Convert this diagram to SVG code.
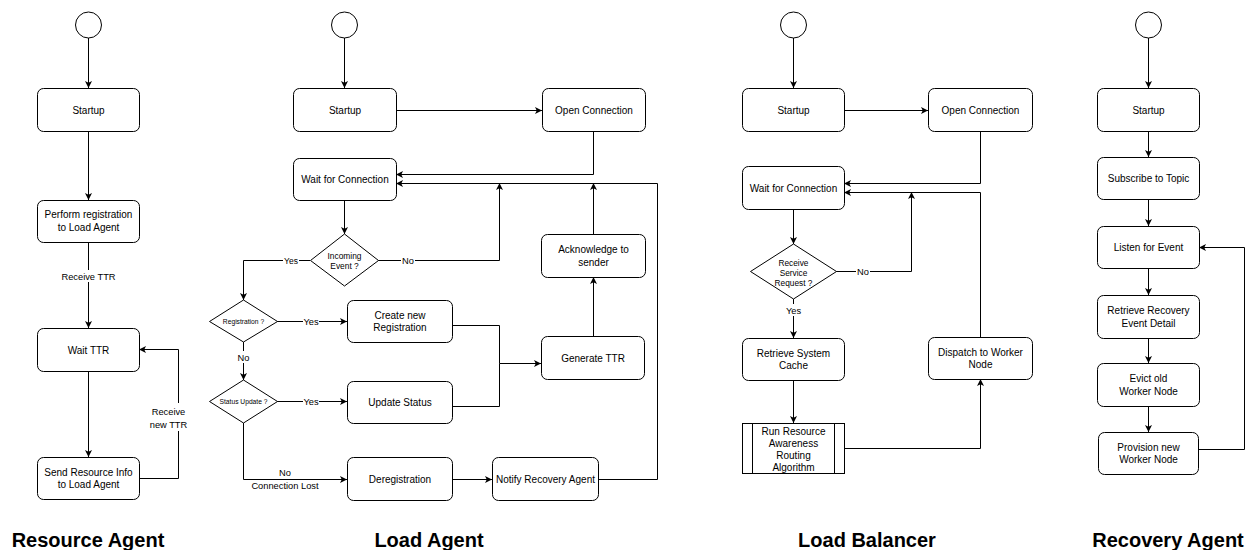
<svg xmlns="http://www.w3.org/2000/svg" width="1246" height="550" viewBox="0 0 1246 550">
<defs>
<marker id="arr" markerUnits="userSpaceOnUse" markerWidth="9" markerHeight="9" refX="7" refY="3.5" orient="auto">
<path d="M0,0 L7,3.5 L0,7 L1.75,3.5 Z" fill="#000"/>
</marker>
<style>
.n{fill:#fff;stroke:#000;stroke-width:1}
.t{font-family:"Liberation Sans",Arial,sans-serif;font-size:10px;fill:#000;text-anchor:middle}
.d{font-family:"Liberation Sans",Arial,sans-serif;fill:#000;text-anchor:middle}
.l{font-family:"Liberation Sans",Arial,sans-serif;font-size:9.3px;fill:#000;text-anchor:middle}
.c{fill:none;stroke:#000;stroke-width:1}
.a{marker-end:url(#arr)}
.bg{fill:#fff}
.h{font-family:"Liberation Sans",Arial,sans-serif;font-size:20px;font-weight:bold;fill:#000;text-anchor:middle}
</style>
</defs>
<rect width="1246" height="550" fill="#fff"/>

<g id="connectors">
<!-- Resource Agent -->
<path class="c a" d="M88.5,38 V88"/>
<path class="c a" d="M88.5,131 V200"/>
<path class="c a" d="M88.5,242 V328"/>
<path class="c a" d="M88.5,371 V457"/>
<path class="c a" d="M139,478.5 H178.5 V349.5 H139"/>
<!-- Load Agent -->
<path class="c a" d="M344.5,38 V88"/>
<path class="c a" d="M396,110.5 H542"/>
<path class="c a" d="M593.5,131 V174.5 H396"/>
<path class="c a" d="M344.5,200 V234"/>
<path class="c a" d="M378,260.5 H499.5 V183"/>
<path class="c a" d="M310,260.5 H243.5 V300"/>
<path class="c a" d="M277,321.5 H347"/>
<path class="c a" d="M243.5,342 V380"/>
<path class="c a" d="M277,401.5 H347"/>
<path class="c a" d="M452,325.5 H499.5 V363.5 H541"/>
<path class="c" d="M452,406.5 H499.5 V363.5"/>
<path class="c a" d="M593.5,336 V277"/>
<path class="c a" d="M593.5,234 V183"/>
<path class="c a" d="M243.5,423 V479.5 H347"/>
<path class="c a" d="M452,479.5 H492"/>
<path class="c a" d="M598,479.5 H657.5 V183.5 H396"/>
<!-- Load Balancer -->
<path class="c a" d="M793.5,38 V88"/>
<path class="c a" d="M844,110.5 H928"/>
<path class="c a" d="M980.5,131 V183.5 H844"/>
<path class="c a" d="M793.5,209 V244"/>
<path class="c a" d="M836,271.5 H911.5 V192"/>
<path class="c a" d="M793.5,299 V338"/>
<path class="c a" d="M793.5,380 V423"/>
<path class="c a" d="M844,448.5 H980.5 V379"/>
<path class="c a" d="M980.5,337 V192.5 H844"/>
<!-- Recovery Agent -->
<path class="c a" d="M1148.5,38 V88"/>
<path class="c a" d="M1148.5,131 V157"/>
<path class="c a" d="M1148.5,199 V226"/>
<path class="c a" d="M1148.5,268 V295"/>
<path class="c a" d="M1148.5,338 V363"/>
<path class="c a" d="M1148.5,406 V432"/>
<path class="c a" d="M1198,449.5 H1244.5 V247.5 H1199"/>

<!-- edge labels -->
<rect class="bg" x="62" y="270" width="53" height="12"/>
<text class="l" x="88.5" y="279.5">Receive TTR</text>
<rect class="bg" x="152" y="403" width="34" height="28"/>
<text class="l" x="168.5" y="414.5">Receive</text>
<text class="l" x="168.5" y="427.5">new TTR</text>

<rect class="bg" x="401" y="255" width="14" height="11"/>
<text class="l" x="408" y="263.8">No</text>
<rect class="bg" x="283" y="255" width="16" height="11"/>
<text class="d" x="291" y="263.5" font-size="8.5px">Yes</text>
<rect class="bg" x="303" y="315" width="16" height="11"/>
<text class="l" x="311" y="324.5">Yes</text>
<rect class="bg" x="236" y="351" width="15" height="12"/>
<text class="l" x="243.5" y="360.5">No</text>
<rect class="bg" x="303" y="396" width="16" height="11"/>
<text class="l" x="311" y="405">Yes</text>
<text class="l" x="285" y="476">No</text>
<text class="l" x="285" y="488.5">Connection Lost</text>

<rect class="bg" x="856" y="266" width="14" height="11"/>
<text class="l" x="863" y="274.8">No</text>
<rect class="bg" x="785" y="304" width="17" height="12"/>
<text class="l" x="793.5" y="313.5">Yes</text>
</g>

<!-- Resource Agent -->
<g id="ra-start"><circle class="n" cx="88.5" cy="25" r="13"/></g>
<g id="ra-startup"><rect class="n" x="37.5" y="88.5" width="102" height="43" rx="6"/><text class="t" x="88.5" y="113.5">Startup</text></g>
<g id="ra-register"><rect class="n" x="37.5" y="200.5" width="102" height="42" rx="6"/><text class="t" x="88.5" y="218">Perform registration</text><text class="t" x="88.5" y="231">to Load Agent</text></g>
<g id="ra-wait"><rect class="n" x="37.5" y="328.5" width="102" height="43" rx="6"/><text class="t" x="88.5" y="353.5">Wait TTR</text></g>
<g id="ra-send"><rect class="n" x="37.5" y="457.5" width="102" height="42" rx="6"/><text class="t" x="88.5" y="475.5">Send Resource Info</text><text class="t" x="88.5" y="488">to Load Agent</text></g>

<!-- Load Agent -->
<g id="la-start"><circle class="n" cx="344.5" cy="25" r="13"/></g>
<g id="la-startup"><rect class="n" x="293.5" y="88.5" width="103" height="43" rx="6"/><text class="t" x="345" y="113.5">Startup</text></g>
<g id="la-open"><rect class="n" x="542.5" y="88.5" width="103" height="43" rx="6"/><text class="t" x="594" y="113.5">Open Connection</text></g>
<g id="la-wait"><rect class="n" x="293.5" y="158.5" width="103" height="42" rx="6"/><text class="t" x="345" y="183">Wait for Connection</text></g>
<g id="la-incoming"><polygon class="n" points="344.5,234 378.5,260.5 344.5,286 310.5,260.5"/><text class="d" font-size="8.4px" x="344.5" y="259">Incoming</text><text class="d" font-size="8.4px" x="344.5" y="269">Event ?</text></g>
<g id="la-registration"><polygon class="n" points="243.5,300 277.5,321.5 243.5,342 209.5,321.5"/><text class="d" font-size="6.7px" x="243.5" y="324">Registration ?</text></g>
<g id="la-status"><polygon class="n" points="243.5,380 277.5,401.5 243.5,423 209.5,401.5"/><text class="d" font-size="6.7px" x="243.5" y="404">Status Update ?</text></g>
<g id="la-create"><rect class="n" x="347.5" y="300.5" width="105" height="42" rx="6"/><text class="t" x="400" y="318.5">Create new</text><text class="t" x="400" y="331">Registration</text></g>
<g id="la-update"><rect class="n" x="347.5" y="381.5" width="105" height="42" rx="6"/><text class="t" x="400" y="405.5">Update Status</text></g>
<g id="la-generate"><rect class="n" x="541.5" y="336.5" width="103" height="43" rx="6"/><text class="t" x="593" y="361.5">Generate TTR</text></g>
<g id="la-ack"><rect class="n" x="541.5" y="234.5" width="104" height="43" rx="6"/><text class="t" x="593.5" y="253">Acknowledge to</text><text class="t" x="593.5" y="265.5">sender</text></g>
<g id="la-dereg"><rect class="n" x="347.5" y="457.5" width="105" height="43" rx="6"/><text class="t" x="400" y="482.5">Deregistration</text></g>
<g id="la-notify"><rect class="n" x="492.5" y="457.5" width="106" height="43" rx="6"/><text class="t" x="545.5" y="482.5">Notify Recovery Agent</text></g>

<!-- Load Balancer -->
<g id="lb-start"><circle class="n" cx="793.5" cy="25" r="13"/></g>
<g id="lb-startup"><rect class="n" x="742.5" y="88.5" width="102" height="43" rx="6"/><text class="t" x="793.5" y="113.5">Startup</text></g>
<g id="lb-open"><rect class="n" x="928.5" y="88.5" width="104" height="43" rx="6"/><text class="t" x="980.5" y="113.5">Open Connection</text></g>
<g id="lb-wait"><rect class="n" x="742.5" y="166.5" width="102" height="43" rx="6"/><text class="t" x="793.5" y="191.5">Wait for Connection</text></g>
<g id="lb-receive"><polygon class="n" points="793.5,244 836.5,271.5 793.5,299 750.5,271.5"/><text class="d" font-size="8.3px" x="793.5" y="266">Receive</text><text class="d" font-size="8.3px" x="793.5" y="276">Service</text><text class="d" font-size="8.3px" x="793.5" y="286">Request ?</text></g>
<g id="lb-cache"><rect class="n" x="742.5" y="338.5" width="102" height="42" rx="6"/><text class="t" x="793.5" y="356.5">Retrieve System</text><text class="t" x="793.5" y="369">Cache</text></g>
<g id="lb-run"><rect class="n" x="742.5" y="423.5" width="102" height="50"/><path class="c" d="M752.5,423.5 V473.5 M834.5,423.5 V473.5"/><text class="t" x="793.5" y="434.5">Run Resource</text><text class="t" x="793.5" y="446.5">Awareness</text><text class="t" x="793.5" y="459">Routing</text><text class="t" x="793.5" y="471">Algorithm</text></g>
<g id="lb-dispatch"><rect class="n" x="928.5" y="337.5" width="104" height="42" rx="6"/><text class="t" x="980.5" y="355.5">Dispatch to Worker</text><text class="t" x="980.5" y="368">Node</text></g>

<!-- Recovery Agent -->
<g id="rc-start"><circle class="n" cx="1148.5" cy="25" r="13"/></g>
<g id="rc-startup"><rect class="n" x="1097.5" y="88.5" width="102" height="43" rx="6"/><text class="t" x="1148.5" y="113.5">Startup</text></g>
<g id="rc-subscribe"><rect class="n" x="1097.5" y="157.5" width="102" height="42" rx="6"/><text class="t" x="1148.5" y="181.5">Subscribe to Topic</text></g>
<g id="rc-listen"><rect class="n" x="1097.5" y="226.5" width="102" height="42" rx="6"/><text class="t" x="1148.5" y="250.5">Listen for Event</text></g>
<g id="rc-retrieve"><rect class="n" x="1097.5" y="295.5" width="102" height="43" rx="6"/><text class="t" x="1148.5" y="314">Retrieve Recovery</text><text class="t" x="1148.5" y="326.5">Event Detail</text></g>
<g id="rc-evict"><rect class="n" x="1097.5" y="363.5" width="102" height="43" rx="6"/><text class="t" x="1148.5" y="382">Evict old</text><text class="t" x="1148.5" y="394.5">Worker Node</text></g>
<g id="rc-provision"><rect class="n" x="1098.5" y="432.5" width="100" height="42" rx="6"/><text class="t" x="1148.5" y="450.5">Provision new</text><text class="t" x="1148.5" y="463">Worker Node</text></g>

<!-- titles -->
<g id="titles">
<text class="h" x="88" y="547">Resource Agent</text>
<text class="h" x="429" y="547">Load Agent</text>
<text class="h" x="867" y="547">Load Balancer</text>
<text class="h" x="1168" y="547">Recovery Agent</text>
</g>
</svg>
